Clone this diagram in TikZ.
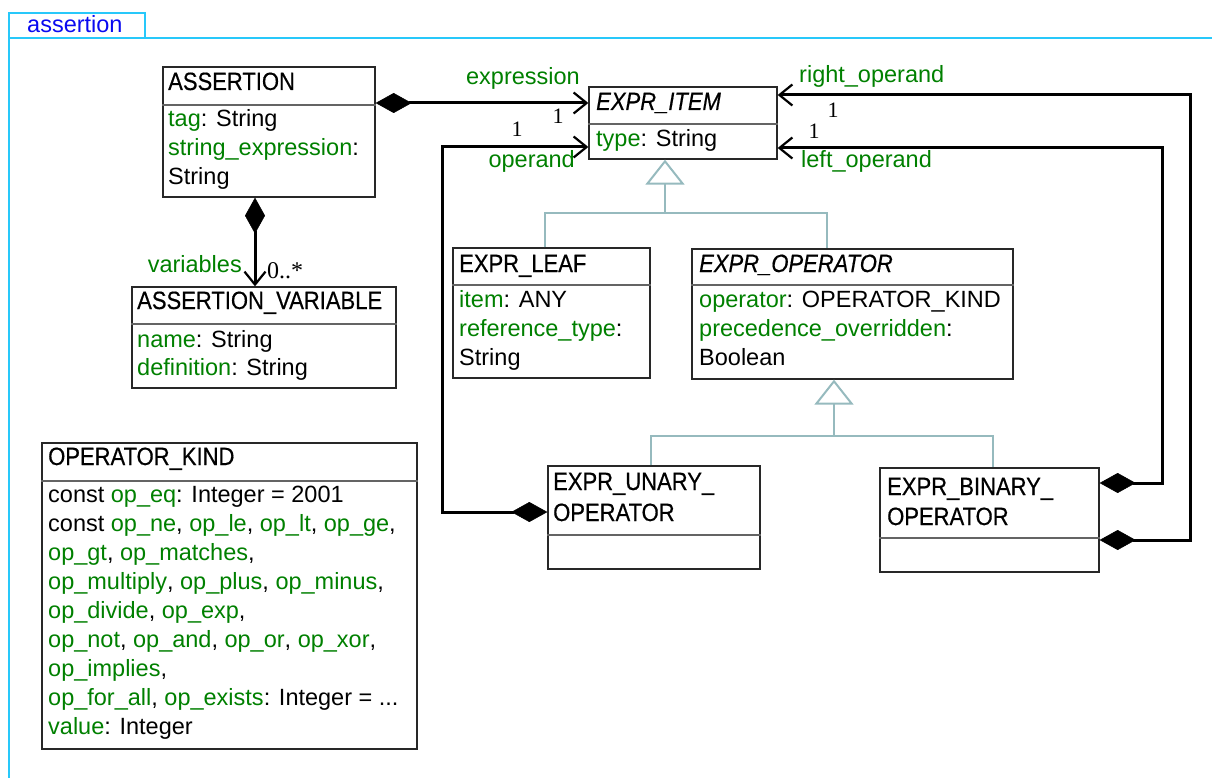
\documentclass[tikz,border=0pt]{standalone}
\usepackage{fontspec}
\setmainfont{Liberation Sans}
\newfontfamily\hdfont[FakeStretch=0.88,FakeBold=0.5]{Liberation Sans}
\newfontfamily\mulfont{Liberation Serif}
\usetikzlibrary{arrows.meta,fit}

\definecolor{attrgreen}{RGB}{0,128,0}
\definecolor{framecyan}{RGB}{40,200,250}
\definecolor{tabblue}{RGB}{10,10,240}
\definecolor{genline}{RGB}{150,186,190}
\definecolor{boxline}{RGB}{40,40,40}
\definecolor{sepgray}{RGB}{100,100,100}

\newcommand\g[1]{\textcolor{attrgreen}{#1}}

\tikzset{
  cls/.style={draw=boxline, line width=1.3pt, inner sep=0pt, rectangle},
  sepline/.style={draw=sepgray, line width=1.3pt},
  hd/.style={anchor=base west, inner sep=0pt, font=\hdfont\fontsize{25}{30}\selectfont},
  hdit/.style={hd, font=\hdfont\itshape\fontsize{25}{30}\selectfont},
  txt/.style={anchor=base west, inner sep=0pt, font=\fontsize{23.5}{29}\selectfont},
  role/.style={inner sep=0pt, text=attrgreen, font=\fontsize{23.5}{29}\selectfont},
  mult/.style={inner sep=0pt, font=\mulfont\fontsize{22}{26}\selectfont},
  comp/.style={draw=black, line width=3pt,
    {Diamond[length=36pt,width=20pt,line width=0.5pt,fill=black]}-{Straight Barb[length=13pt,width=21pt,line width=2.2pt]}},
  gen/.style={draw=genline, line width=2pt},
  genarrow/.style={gen, -{Triangle[open,length=25pt,width=39pt,line width=2pt]}},
  frameline/.style={draw=framecyan, line width=2.4pt},
}

\begin{document}
\begin{tikzpicture}[x=1pt,y=-1pt]
\useasboundingbox (0,0) rectangle (1212,778);

% package frame and its tab
\draw[frameline] (9,782) -- (9,13) -- (145,13) -- (145,38);
\draw[frameline] (9,38) -- (1216,38);
\node[txt, text=tabblue] (tab) at (27,33) {assertion};

% ASSERTION
\node[cls, fit={(163,67) (375,197)}] (assertion) {};
\draw[sepline] (assertion.west |- 0,105) -- (assertion.east |- 0,105);
\node[hd] at (168,90) {ASSERTION};
\node[txt] at (168,127) {\g{tag}: String};
\node[txt] at (168,156) {\g{string\_expression}:};
\node[txt] at (168,185) {String};

% EXPR_ITEM
\node[cls, fit={(589,87) (777,159)}] (expritem) {};
\draw[sepline] (expritem.west |- 0,124) -- (expritem.east |- 0,124);
\node[hdit] at (596,110) {EXPR\_ITEM};
\node[txt] at (596,147) {\g{type}: String};

% ASSERTION_VARIABLE
\node[cls, fit={(132,287) (396,388)}] (assertvar) {};
\draw[sepline] (assertvar.west |- 0,324) -- (assertvar.east |- 0,324);
\node[hd] at (137,309) {ASSERTION\_VARIABLE};
\node[txt] at (137,347) {\g{name}: String};
\node[txt] at (137,375) {\g{definition}: String};

% EXPR_LEAF
\node[cls, fit={(453,248) (650,378)}] (leaf) {};
\draw[sepline] (leaf.west |- 0,285) -- (leaf.east |- 0,285);
\node[hd] at (459,272) {EXPR\_LEAF};
\node[txt] at (459,307) {\g{item}: ANY};
\node[txt] at (459,336) {\g{reference\_type}:};
\node[txt] at (459,365) {String};

% EXPR_OPERATOR
\node[cls, fit={(692,249) (1013,379)}] (exprop) {};
\draw[sepline] (exprop.west |- 0,285) -- (exprop.east |- 0,285);
\node[hdit] at (699,272) {EXPR\_OPERATOR};
\node[txt] at (699,307) {\g{operator}: OPERATOR\_KIND};
\node[txt] at (699,336) {\g{precedence\_overridden}:};
\node[txt] at (699,365) {Boolean};

% EXPR_UNARY_OPERATOR
\node[cls, fit={(548,466) (760,569)}] (unary) {};
\draw[sepline] (unary.west |- 0,535) -- (unary.east |- 0,535);
\node[hd] at (553,490) {EXPR\_UNARY\_};
\node[hd] at (553,521) {OPERATOR};

% EXPR_BINARY_OPERATOR
\node[cls, fit={(880,468) (1099,572)}] (binary) {};
\draw[sepline] (binary.west |- 0,538) -- (binary.east |- 0,538);
\node[hd] at (887,495) {EXPR\_BINARY\_};
\node[hd] at (887,525) {OPERATOR};

% OPERATOR_KIND
\node[cls, fit={(42,443) (417,749)}] (opkind) {};
\draw[sepline] (opkind.west |- 0,481) -- (opkind.east |- 0,481);
\node[hd] at (48,465) {OPERATOR\_KIND};
\node[txt] at (48,502) {const \g{op\_eq}: Integer = 2001};
\node[txt] at (48,531) {const \g{op\_ne}, \g{op\_le}, \g{op\_lt}, \g{op\_ge},};
\node[txt] at (48,560) {\g{op\_gt}, \g{op\_matches},};
\node[txt] at (48,589) {\g{op\_multiply}, \g{op\_plus}, \g{op\_minus},};
\node[txt] at (48,618) {\g{op\_divide}, \g{op\_exp},};
\node[txt] at (48,647) {\g{op\_not}, \g{op\_and}, \g{op\_or}, \g{op\_xor},};
\node[txt] at (48,676) {\g{op\_implies},};
\node[txt] at (48,705) {\g{op\_for\_all}, \g{op\_exists}: Integer = ...};
\node[txt] at (48,734) {\g{value}: Integer};

% generalisation trees
\draw[gen] (leaf.north -| 545,0) |- (827,213) -- (exprop.north -| 827,0);
\draw[genarrow] (665,213) -- (expritem.south -| 665,0);
\draw[gen] (unary.north -| 651,0) |- (993,436) -- (binary.north -| 993,0);
\draw[genarrow] (834,436) -- (exprop.south -| 834,0);

% compositions
\draw[comp] (assertion.east |- 0,103) -- (expritem.west |- 0,103);
\draw[comp] (assertion.south -| 255,0) -- (assertvar.north -| 255,0);
\draw[comp] (unary.west |- 0,512) -| (442,147) -- (expritem.west |- 0,147);
\draw[comp] (binary.east |- 0,540) -| (1190,95) -- (expritem.east |- 0,95);
\draw[comp] (binary.east |- 0,483) -| (1162,148) -- (expritem.east |- 0,148);

% role names and multiplicities
\node[role, anchor=base east] at (580,85) {expression};
\node[role, anchor=base east] at (575,168) {operand};
\node[role, anchor=base west] at (799,83) {right\_operand};
\node[role, anchor=base west] at (801,168) {left\_operand};
\node[role, anchor=base east] at (242,272) {variables};
\node[mult] at (558,116) {1};
\node[mult] at (517,129) {1};
\node[mult] at (833,110) {1};
\node[mult] at (814,131) {1};
\node[mult, anchor=base west, font=\mulfont\fontsize{24}{28}\selectfont] at (267,278) {0..*};
\end{tikzpicture}
\end{document}
